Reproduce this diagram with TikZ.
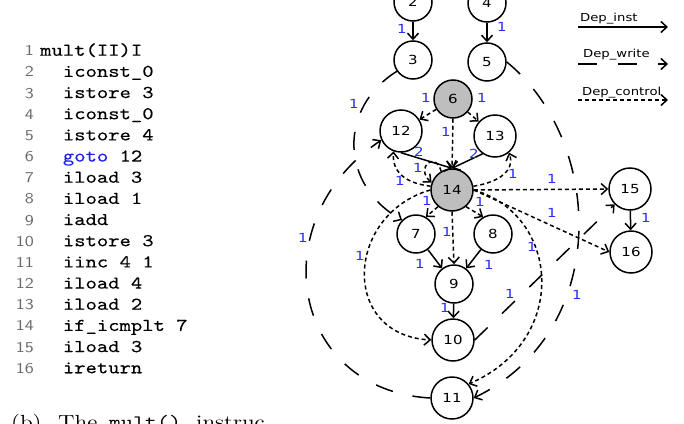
\documentclass[tikz,border=0pt]{standalone}
\usepackage{fontspec}
\usetikzlibrary{arrows.meta}
\newfontfamily\gfont{DejaVu Sans}[FakeStretch=1.2]
\newfontfamily\codefont{lmmono10-regular.otf}[FakeStretch=1.2,FakeBold=0.2]
\newfontfamily\numfont{lmsans10-regular.otf}[FakeStretch=1.2]
\newfontfamily\capfont{lmroman10-regular.otf}[FakeStretch=1.2]
\newfontfamily\captt{lmmono10-regular.otf}[FakeStretch=1.2]
\definecolor{lblue}{RGB}{45,45,255}
\definecolor{nodegray}{RGB}{190,190,190}
\definecolor{numgray}{RGB}{105,105,105}
\definecolor{kwblue}{RGB}{30,30,235}
\tikzset{
  nd/.style={circle, draw, line width=1.5pt, minimum size=38pt, inner sep=0pt,
    font=\gfont\fontsize{12.5}{13}\selectfont},
  ndw/.style={nd, minimum size=42pt},
  hl/.style={fill=nodegray},
  inst/.style={line width=1.5pt, -{Straight Barb[length=6pt,width=11pt]}},
  wr/.style={inst, dash pattern=on 18pt off 20pt},
  ctrl/.style={inst, dash pattern=on 4pt off 3pt},
  lab/.style={text=lblue, inner sep=0pt, font=\gfont\fontsize{12.5}{13}\selectfont},
  leg/.style={anchor=base west, inner sep=0pt, font=\gfont\fontsize{11}{12}\selectfont},
  code/.style={anchor=base west, inner sep=0pt, font=\codefont\fontsize{18}{18}\selectfont},
  lnum/.style={anchor=base east, inner sep=0pt, text=numgray, font=\numfont\fontsize{15}{15}\selectfont},
  captxt/.style={anchor=base west, inner sep=0pt, font=\capfont\fontsize{19}{19}\selectfont},
}
\begin{document}
\begin{tikzpicture}[x=1pt,y=-1pt]
\useasboundingbox (0,0) rectangle (684,423);

% ---------- code listing ----------
\node[lnum] (num1) at (34,55.7) {1};
\node[code] (code1) at (40,55.7) {mult(II)I};
\foreach \k/\t in {2/iconst\_0, 3/istore 3, 4/iconst\_0, 5/istore 4,
  6/{\textcolor{kwblue}{goto} 12}, 7/iload 3, 8/iload 1, 9/iadd, 10/istore 3,
  11/iinc 4 1, 12/iload 4, 13/iload 2, 14/if\_icmplt 7, 15/iload 3, 16/ireturn} {
  \node[lnum] (num\k) at (34,{55.7+21.17*(\k-1)}) {\k};
  \node[code] (code\k) at (62.7,{55.7+21.17*(\k-1)}) {\t};
}

% ---------- caption (cut off by the page edge) ----------
\node[captxt] (capb) at (11,428.5) {(b)};
\node[captxt] (capthe) at (58,428.5) {The};
\node[captxt, font=\captt\fontsize{19}{19}\selectfont] (capmult) at (109,428.5) {mult()};
\node[captxt] (capins) at (196,428.5) {instruc};

% ---------- nodes ----------
\node[nd] (n2) at (413,2) {2};
\node[nd] (n4) at (487,3) {4};
\node[nd] (n3) at (413,60) {3};
\node[nd] (n5) at (487,62) {5};
\node[nd,hl] (n6) at (453,99) {6};
\node[ndw] (n12) at (401,131) {12};
\node[ndw] (n13) at (495,136) {13};
\node[ndw,hl] (n14) at (452,190) {14};
\node[nd] (n7) at (416,234) {7};
\node[nd] (n8) at (493,234) {8};
\node[nd] (n9) at (454,284) {9};
\node[ndw] (n10) at (453,340) {10};
\node[ndw] (n11) at (452,398) {11};
\node[ndw] (n15) at (630,189) {15};
\node[ndw] (n16) at (631,252) {16};

% ---------- Dep_inst ----------
\draw[inst] (n2) -- (n3);
\draw[inst] (n4) -- (n5);
\draw[inst] (n12.south) -- (n14.north);
\draw[inst] (n13.235) -- (n14.north);
\draw[inst] (n7) -- (n9);
\draw[inst] (n8) -- (n9);
\draw[inst] (n9) -- (n10);
\draw[inst] (n15) -- (n16);

% ---------- Dep_control ----------
\draw[ctrl] (n6) -- (n12);
\draw[ctrl] (n6) -- (n13);
\draw[ctrl] (n6.south) -- (n14.north);
\draw[ctrl] (n14.230) -- (n7.60);
\draw[ctrl] (n14.310) -- (n8.120);
\draw[ctrl] (n14.south) -- (n9.north);
\draw[ctrl] (n14.east) -- (n15.west);
\draw[ctrl] (n14.east) -- (n16.west);
\draw[ctrl] (n14.170) .. controls (405,183) and (392,172) .. (n12.250);
\draw[ctrl] (n14.10) .. controls (500,182) and (515,170) .. (n13.310);
\draw[ctrl] (n14.120) .. controls (435,150) and (415,168) .. (n14.160);
\draw[ctrl] (n14.west) .. controls (345,215) and (340,335) .. (n10.west);
\draw[ctrl] (n14.east) .. controls (560,215) and (570,340) .. (n11.40);

% ---------- Dep_write ----------
\draw[wr] (n3.215) .. controls (338,108) and (340,185) .. (n7.135);
\draw[wr] (n11.west) .. controls (290,390) and (262,220) .. (n12.205);
\draw[wr] (n5.east) .. controls (603,140) and (613,330) .. (n11.east);
\draw[wr] (n10.east) -- (n15.225);

% ---------- edge labels ----------
\node[lab] (l23) at (402,29) {1};
\node[lab] (l45) at (502,27) {1};
\node[lab] (l612) at (426,98) {1};
\node[lab] (l613) at (482,98) {1};
\node[lab] (l614) at (446,132) {1};
\node[lab] (l37) at (354,104) {1};
\node[lab] (l1214) at (419,152) {2};
\node[lab] (l1314) at (474,154) {2};
\node[lab] (l1414) at (418,168) {1};
\node[lab] (l1412) at (400,181) {1};
\node[lab] (l1413) at (513,174) {1};
\node[lab] (l147) at (427,201) {1};
\node[lab] (l148) at (480,202) {1};
\node[lab] (l149) at (447,232) {1};
\node[lab] (l1415) at (552,179) {1};
\node[lab] (l1416) at (552,213) {1};
\node[lab] (l1410) at (360,256) {1};
\node[lab] (l1411) at (532,247) {1};
\node[lab] (l1112) at (303,238) {1};
\node[lab] (l1015) at (510,294) {1};
\node[lab] (l511) at (577,295) {1};
\node[lab] (l79) at (420,264) {1};
\node[lab] (l89) at (489,265) {1};
\node[lab] (l910) at (445,308) {1};
\node[lab] (l1516) at (646,218) {1};

% ---------- legend ----------
\node[leg] (tinst) at (580,21) {Dep\_inst};
\node[leg] (twrite) at (583,57.5) {Dep\_write};
\node[leg] (tctrl) at (582,95) {Dep\_control};
\coordinate (a1) at (578,27);  \coordinate (b1) at (668,27);
\coordinate (a2) at (578,64);  \coordinate (b2) at (668,64);
\coordinate (a3) at (578,100); \coordinate (b3) at (668,100);
\draw[inst] (a1) -- (b1);
\draw[inst, dash pattern=on 19pt off 21pt] (a2) -- (b2);
\draw[ctrl] (a3) -- (b3);
\end{tikzpicture}
\end{document}
